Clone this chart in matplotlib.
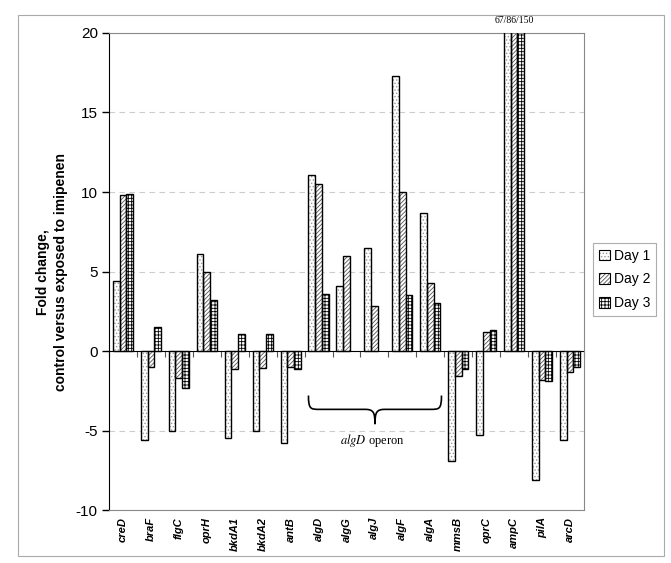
import numpy as np
import matplotlib
matplotlib.use("Agg")
import matplotlib.pyplot as plt
from matplotlib.patches import Patch, PathPatch, Rectangle
from matplotlib.path import Path
import matplotlib.transforms as mtransforms

plt.rcParams['font.family'] = ['Liberation Sans', 'DejaVu Sans']
plt.rcParams['hatch.linewidth'] = 0.6
plt.rcParams['axes.unicode_minus'] = False

# fold change values (nan = no bar)
genes = ['creD', 'braF', 'flgC', 'oprH', 'bkdA1', 'bkdA2', 'antB', 'algD', 'algG',
         'algJ', 'algF', 'algA', 'mmsB', 'oprC', 'ampC', 'pilA', 'arcD']
day1 = [4.4, -5.6, -5.0, 6.1, -5.5, -5.0, -5.8, 11.1, 4.1,
        6.5, 17.3, 8.7, -6.9, -5.3, 67, -8.1, -5.6]
day2 = [9.8, -1.0, -1.7, 5.0, -1.1, -1.05, -1.0, 10.5, 6.0,
        2.8, 10.0, 4.3, -1.6, 1.2, 86, -1.8, -1.35]
day3 = [9.9, 1.5, -2.3, 3.2, 1.1, 1.05, -1.1, 3.6, np.nan,
        np.nan, 3.5, 3.0, -1.1, 1.3, 150, -1.9, -1.0]
series_names = ['Day 1', 'Day 2', 'Day 3']
ampc_label = '67/86/150'
operon_genes = ('algD', 'algA')

ymin, ymax = -10, 20

# hatch styles per day: (face, hatch, hatch colour)
styles = [('white', '.....', '#9a9a9a'),
          ('white', '////////', '#555555'),
          ('white', '+++++', '#000000')]

fig = plt.figure(figsize=(6.71, 5.63), dpi=100)
ax = fig.add_axes([0.1624, 0.0941, 0.7079, 0.8473])

x = np.arange(len(genes))
width = 0.24
handles = []
for k, vals in enumerate([day1, day2, day3]):
    face, hatch, hcol = styles[k]
    pos = x + (k - 1) * width
    ax.bar(pos, vals, width, color=face, edgecolor=hcol, hatch=hatch, lw=0, zorder=2)
    ax.bar(pos, vals, width, color='none', edgecolor='black', lw=1.0, zorder=3)
    handles.append((Patch(facecolor=face, edgecolor=hcol, hatch=hatch, lw=0),
                    Patch(facecolor='none', edgecolor='black', lw=0.8)))

ax.set_xlim(-0.5, len(genes) - 0.5)
ax.set_ylim(ymin, ymax)
ax.set_axisbelow(True)

# dashed gridlines
for g in [-5, 5, 10, 15]:
    ax.axhline(g, color='#cccccc', lw=0.8, ls=(0, (5, 4)), zorder=0)

# frame
for s in ['top', 'right', 'bottom']:
    ax.spines[s].set_color('#888888')
ax.spines['left'].set_color('black')
ax.set_yticks(np.arange(ymin, ymax + 1, 5))
ax.tick_params(axis='y', length=5, width=1, labelsize=11, pad=3)
ax.set_xticks(x)
ax.set_xticklabels(genes, rotation=90, fontsize=8, fontweight='bold', fontstyle='italic')
ax.tick_params(axis='x', length=0, pad=5)

# zero line with ticks between categories
zero_frac = (0 - ymin) / (ymax - ymin)
sec = ax.secondary_xaxis(zero_frac)
sec.set_xticks(np.arange(-0.5, len(genes), 1.0))
sec.set_xticklabels([])
sec.tick_params(length=4, width=0.8, direction='out', colors='#555555')
sec.spines['bottom'].set_color('black')

# label for clipped ampC bars
trans = mtransforms.blended_transform_factory(ax.transData, ax.transAxes)
ax.text(genes.index('ampC'), 1.027, ampc_label, transform=trans, ha='center', va='center',
        fontsize=7, family='Liberation Serif')

# brace under the algD operon
x0 = genes.index(operon_genes[0]) - 0.36
x1 = genes.index(operon_genes[1]) + 0.40
xm = (x0 + x1) / 2
yt, ym, yp = -2.8, -3.67, -4.6
verts = [(x0, yt), (x0, ym), (x0 + 0.08, ym), (x0 + 0.4, ym),
         (xm - 0.35, ym),
         (xm - 0.05, ym), (xm, ym - 0.2), (xm, yp),
         (xm, ym - 0.2), (xm + 0.05, ym), (xm + 0.35, ym),
         (x1 - 0.4, ym),
         (x1 - 0.08, ym), (x1, ym), (x1, yt)]
codes = [Path.MOVETO, Path.CURVE4, Path.CURVE4, Path.CURVE4,
         Path.LINETO,
         Path.CURVE4, Path.CURVE4, Path.CURVE4,
         Path.CURVE4, Path.CURVE4, Path.CURVE4,
         Path.LINETO,
         Path.CURVE4, Path.CURVE4, Path.CURVE4]
ax.add_patch(PathPatch(Path(verts, codes), fc='none', ec='black', lw=1.2, zorder=4))
ax.text(xm - 0.1, -5.6, r'$\mathit{algD}$ operon', ha='center', va='center', fontsize=9,
        family='Liberation Serif', math_fontfamily='stix')

# y label
fig.text(52 / 671, 1 - 272 / 563, 'Fold change,\ncontrol versus exposed to imipenen',
         rotation=90, ha='center', va='center', multialignment='center',
         fontsize=10, fontweight='bold', linespacing=1.3)

leg = fig.legend(handles, series_names, loc='upper left', bbox_to_anchor=(0.884, 0.568),
                 fontsize=10, frameon=True, fancybox=False, edgecolor='#999999',
                 handlelength=0.8, handleheight=0.8, handletextpad=0.3,
                 labelspacing=0.7, borderpad=0.4, borderaxespad=0)
leg.get_frame().set_linewidth(0.8)

# outer chart border
fig.patches.append(Rectangle((18 / 671, 1 - 556 / 563), 646 / 671, 541 / 563,
                             transform=fig.transFigure, fill=False,
                             edgecolor='#aaaaaa', lw=0.8))

fig.savefig('out.png', dpi=100)
